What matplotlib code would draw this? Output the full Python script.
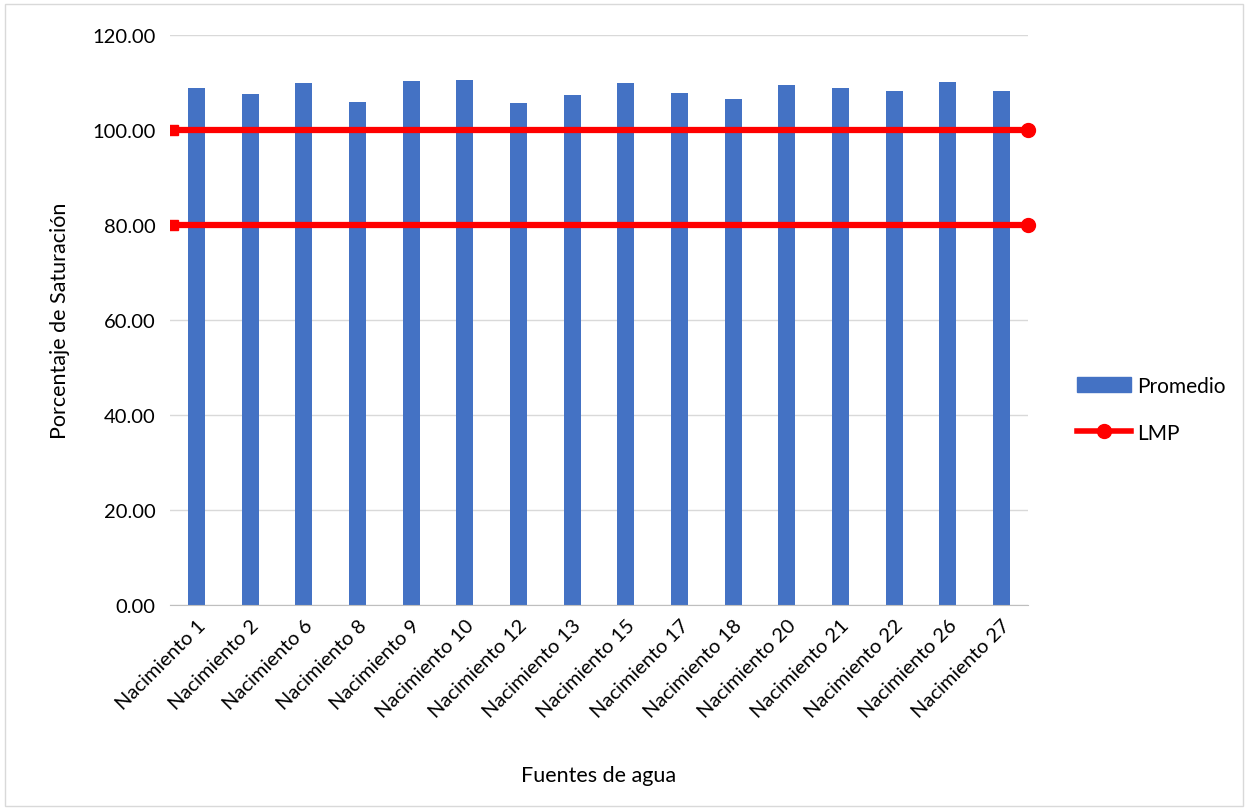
import numpy as np
import matplotlib.pyplot as plt
from matplotlib.patches import Rectangle
from matplotlib.lines import Line2D
from matplotlib.patches import Patch

fuentes = ['Nacimiento 1', 'Nacimiento 2', 'Nacimiento 6', 'Nacimiento 8',
           'Nacimiento 9', 'Nacimiento 10', 'Nacimiento 12', 'Nacimiento 13',
           'Nacimiento 15', 'Nacimiento 17', 'Nacimiento 18', 'Nacimiento 20',
           'Nacimiento 21', 'Nacimiento 22', 'Nacimiento 26', 'Nacimiento 27']
promedio = [108.8, 107.5, 109.9, 105.8, 110.3, 110.5, 105.7, 107.4,
            109.8, 107.8, 106.6, 109.5, 108.9, 108.1, 110.0, 108.3]
lmp = [100.0, 80.0]

plt.rcParams['font.family'] = ['Lato', 'DejaVu Sans']

fig = plt.figure(figsize=(12.48, 8.12), dpi=100)
ax = fig.add_axes([0.136, 0.2537, 0.688, 0.702])

x = np.arange(len(fuentes))
ax.bar(x, promedio, width=0.32, color='#4472C4', zorder=2)

# límites máximos permisibles: recta de lado a lado
for v in lmp:
    ax.plot([-0.5, len(fuentes) - 0.5], [v, v], color='#FF0000', lw=4.5,
            solid_capstyle='butt', zorder=3, clip_on=False)
    ax.plot([len(fuentes) - 0.5], [v], 'o', color='#FF0000', ms=10,
            zorder=4, clip_on=False)
    ax.plot([-0.44], [v], 's', color='#FF0000', ms=7, zorder=4, clip_on=True)

ax.set_xlim(-0.5, len(fuentes) - 0.5)
ax.set_ylim(0, 120)
ax.set_yticks(np.arange(0, 121, 20))
ax.set_yticklabels([f'{t:.2f}' for t in np.arange(0, 121, 20)], fontsize=14.5)
ax.set_xticks(x)
ax.set_xticklabels(fuentes, rotation=45, ha='right', rotation_mode='anchor',
                   fontsize=14.5)
ax.tick_params(axis='y', length=0, pad=10)
ax.tick_params(axis='x', length=0, pad=8)
ax.grid(axis='y', color='#D9D9D9', lw=1, zorder=0)
for s in ['top', 'right', 'left']:
    ax.spines[s].set_visible(False)
ax.spines['bottom'].set_color('#BFBFBF')

ax.set_xlabel('Fuentes de agua', fontsize=15.5, labelpad=32)
ax.set_ylabel('Porcentaje de Saturación', fontsize=15.5, labelpad=16)

handles = [Patch(color='#4472C4'),
           Line2D([0], [0], color='#FF0000', lw=4, marker='o', ms=10)]
fig.legend(handles, ['Promedio', 'LMP'], loc='center left',
           bbox_to_anchor=(0.848, 0.495), frameon=False, fontsize=15,
           handlelength=2.6, labelspacing=1.3, handletextpad=0.3)

fig.patches.append(Rectangle((0.004, 0.006), 0.992, 0.988, transform=fig.transFigure,
                             fill=False, ec='#D9D9D9', lw=1))

fig.savefig('out.png', dpi=100)
